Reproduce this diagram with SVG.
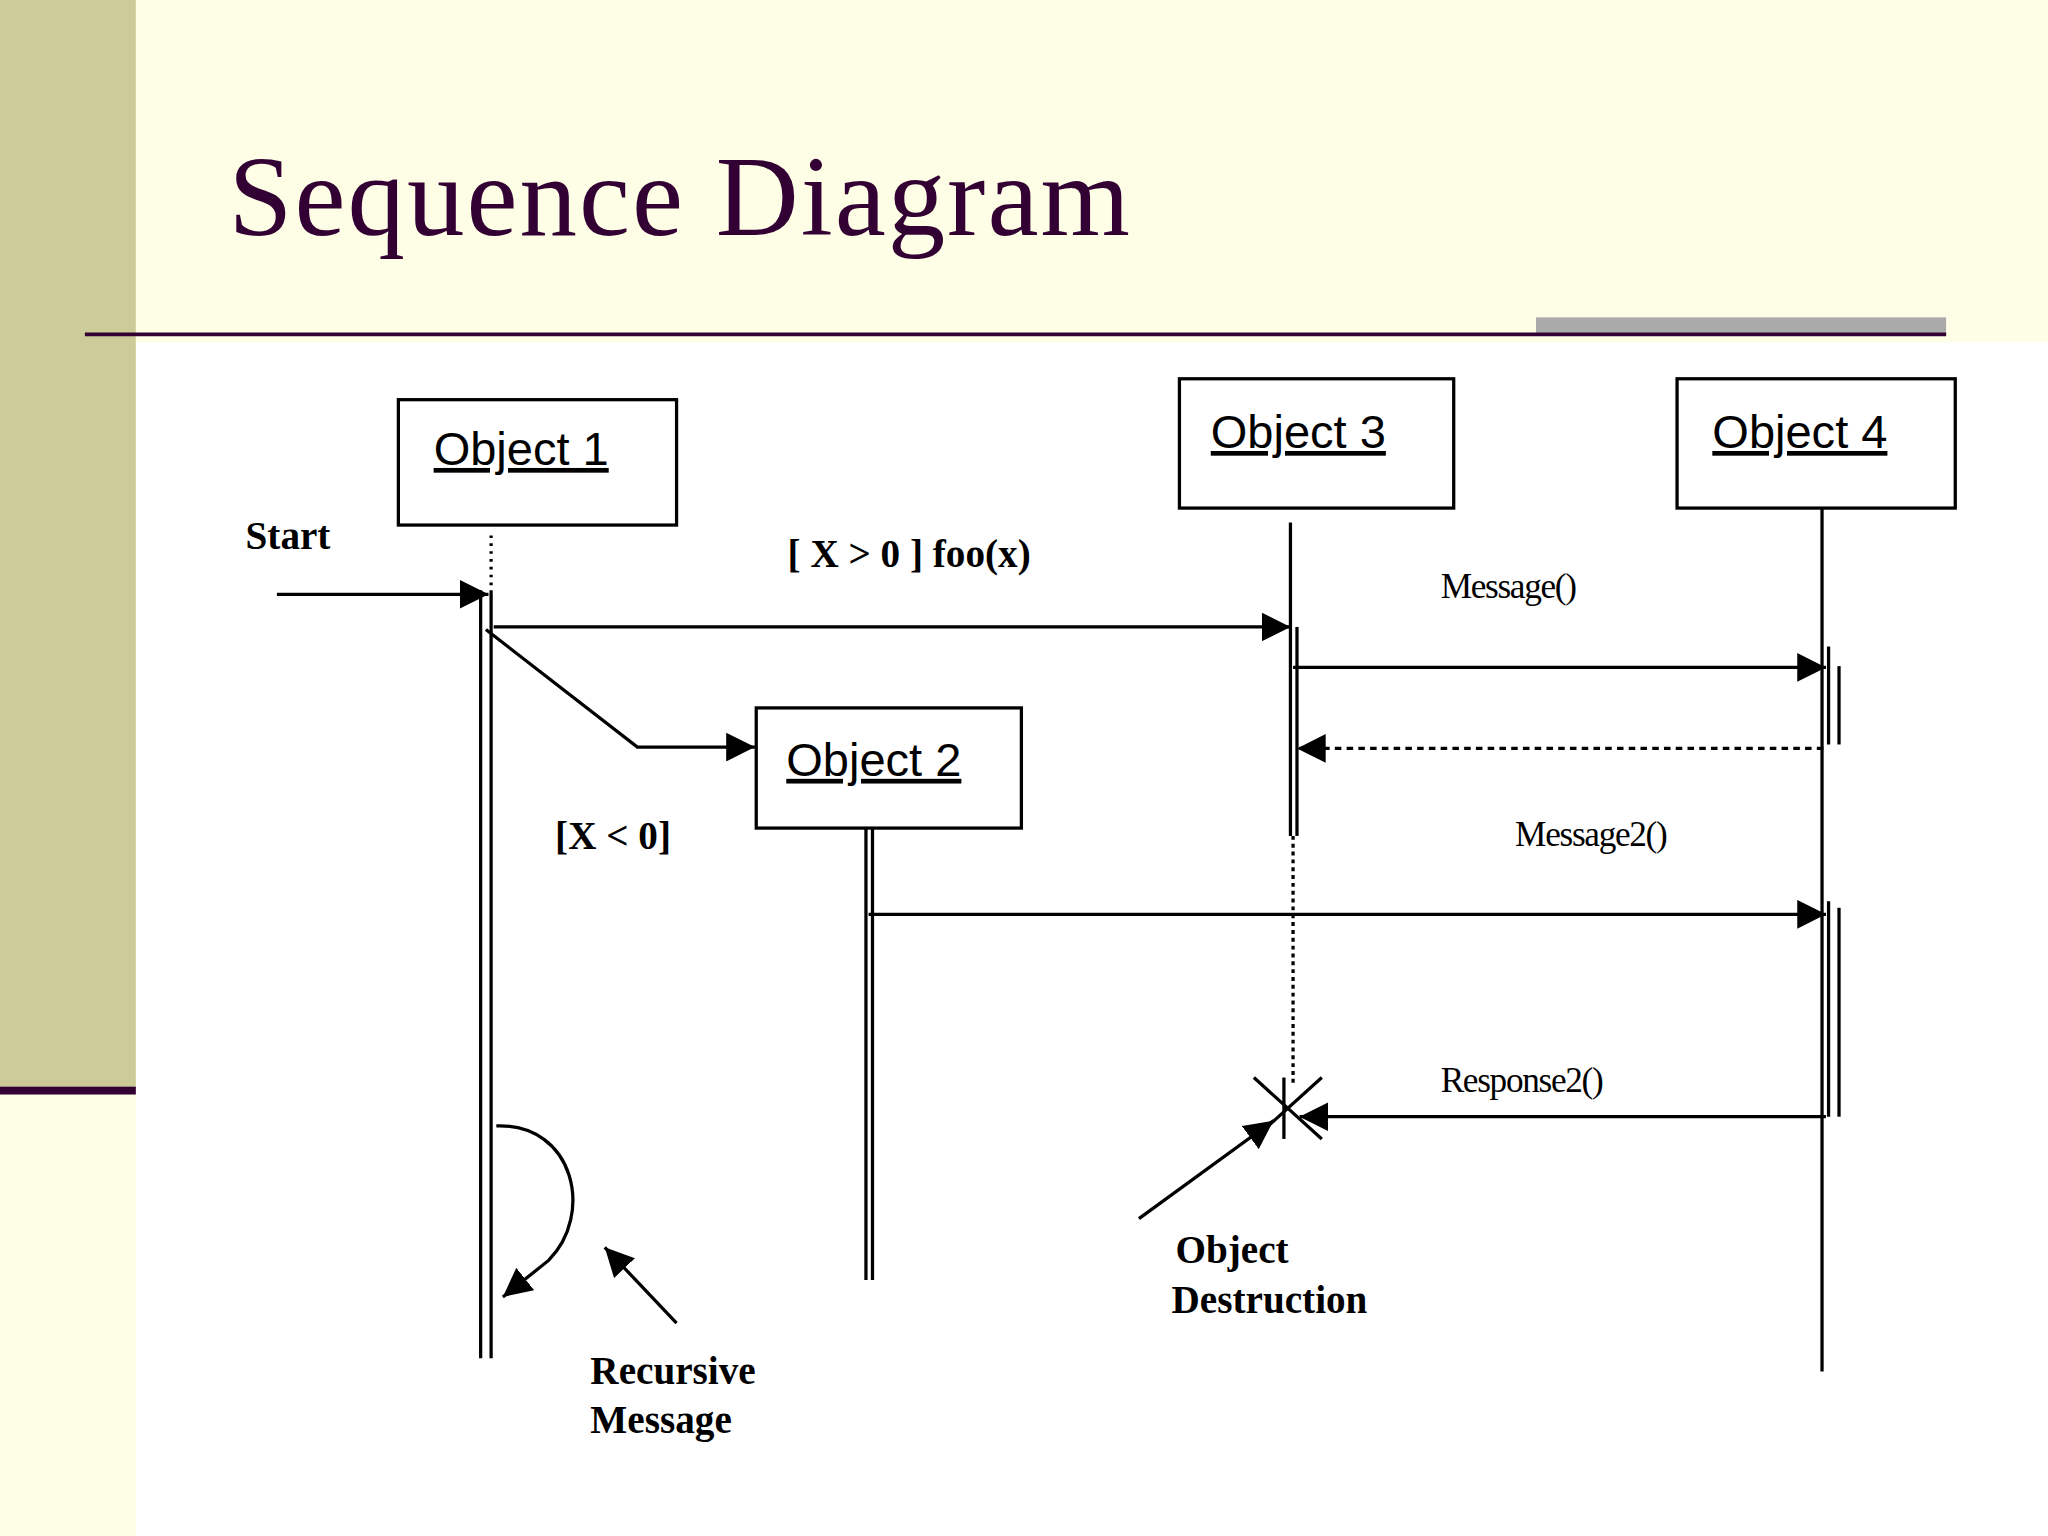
<svg xmlns="http://www.w3.org/2000/svg" width="2048" height="1536" viewBox="0 0 2048 1536">
<defs>
<style>
.box{fill:#fff;stroke:#000;stroke-width:2.5}
.ot{font-family:"Liberation Sans",Arial,sans-serif;font-size:36px;text-decoration:underline;fill:#000}
.ln{stroke:#000;stroke-width:2.5;fill:none}
.lb{font-family:"Liberation Serif","Times New Roman",serif;font-weight:bold;font-size:30px;fill:#000}
.ms{font-family:"Liberation Serif","Times New Roman",serif;font-size:27px;fill:#000;letter-spacing:-1px}
</style>
<marker id="ah2" viewBox="0 0 10 10" refX="10" refY="5" markerWidth="22" markerHeight="22" markerUnits="userSpaceOnUse" orient="auto"><path d="M0,0L10,5L0,10z" fill="#000"/></marker>
</defs>
<g transform="scale(1.30612)">
<rect width="1568" height="1176" fill="#FEFEE6"/>
<rect x="104" y="262" width="1464" height="914" fill="#fff"/>
<rect x="0" y="0" width="104" height="833" fill="#CCCC99"/>
<rect x="0" y="832" width="104" height="6" fill="#330033"/>
<text x="175" y="180" font-family="Liberation Serif,serif" font-size="88" fill="#330033" textLength="690" lengthAdjust="spacing">Sequence Diagram</text>
<rect x="1176" y="243" width="314" height="14" fill="#AAAAAA"/>
<line x1="65" y1="256" x2="1490" y2="256" stroke="#330033" stroke-width="3"/>
<g id="connectors">
<line class="ln" x1="376" y1="410" x2="376" y2="452" stroke-dasharray="2,4"/>
<line class="ln" x1="368" y1="452" x2="368" y2="1040"/><line class="ln" x1="376" y1="452" x2="376" y2="1040" stroke-width="3.5"/>
<line class="ln" x1="663" y1="634" x2="663" y2="980"/><line class="ln" x1="668" y1="634" x2="668" y2="980"/>
<line class="ln" x1="988" y1="400" x2="988" y2="640"/><line class="ln" x1="993" y1="480" x2="993" y2="640"/>
<line class="ln" x1="990" y1="640" x2="990" y2="830" stroke-dasharray="3,3"/>
<line class="ln" x1="1395" y1="389" x2="1395" y2="1050"/>
<line class="ln" x1="1400" y1="495" x2="1400" y2="570" stroke-width="4"/><line class="ln" x1="1408" y1="510" x2="1408" y2="570" stroke-width="4"/>
<line class="ln" x1="1400" y1="690" x2="1400" y2="855" stroke-width="4"/><line class="ln" x1="1408" y1="695" x2="1408" y2="855" stroke-width="4"/>
<line class="ln" x1="212" y1="455" x2="374" y2="455" marker-end="url(#ah2)"/>
<line class="ln" x1="378" y1="480" x2="988" y2="480" marker-end="url(#ah2)"/>
<polyline class="ln" points="372,482 488,572 578,572" marker-end="url(#ah2)"/>
<line class="ln" x1="990" y1="511" x2="1398" y2="511" marker-end="url(#ah2)"/>
<line class="ln" x1="1396" y1="573" x2="993" y2="573" stroke-dasharray="5,4" marker-end="url(#ah2)"/>
<line class="ln" x1="665" y1="700" x2="1398" y2="700" marker-end="url(#ah2)"/>
<line class="ln" x1="1398" y1="855" x2="995" y2="855" marker-end="url(#ah2)"/>
<line class="ln" x1="983" y1="825" x2="983" y2="872" stroke-width="4"/>
<line class="ln" x1="960" y1="825" x2="1012" y2="872"/><line class="ln" x1="1012" y1="825" x2="960" y2="872"/>
<line class="ln" x1="872" y1="933" x2="975" y2="858" marker-end="url(#ah2)"/>
<path class="ln" d="M380,862 C440,860 455,930 420,965 L385,993" stroke-width="3.5" marker-end="url(#ah2)"/>
<line class="ln" x1="518" y1="1013" x2="463" y2="955" marker-end="url(#ah2)"/>
</g>
<g id="object1"><rect class="box" x="305" y="306" width="213" height="96"/><text class="ot" x="332" y="356">Object 1</text></g>
<g id="object2"><rect class="box" x="579" y="542" width="203" height="92"/><text class="ot" x="602" y="594">Object 2</text></g>
<g id="object3"><rect class="box" x="903" y="290" width="210" height="99"/><text class="ot" x="927" y="343">Object 3</text></g>
<g id="object4"><rect class="box" x="1284" y="290" width="213" height="99"/><text class="ot" x="1311" y="343">Object 4</text></g>
<g id="labels">
<text class="lb" x="188" y="420">Start</text>
<text class="lb" x="603" y="434">[ X &gt; 0 ] foo(x)</text>
<text class="lb" x="425" y="650">[X &lt; 0]</text>
<text class="ms" x="1103" y="458">Message()</text>
<text class="ms" x="1160" y="648">Message2()</text>
<text class="ms" x="1103" y="836">Response2()</text>
<text class="lb" x="900" y="967">Object</text>
<text class="lb" x="897" y="1005">Destruction</text>
<text class="lb" x="452" y="1060">Recursive</text>
<text class="lb" x="452" y="1097">Message</text>
</g>
</g>
</svg>
